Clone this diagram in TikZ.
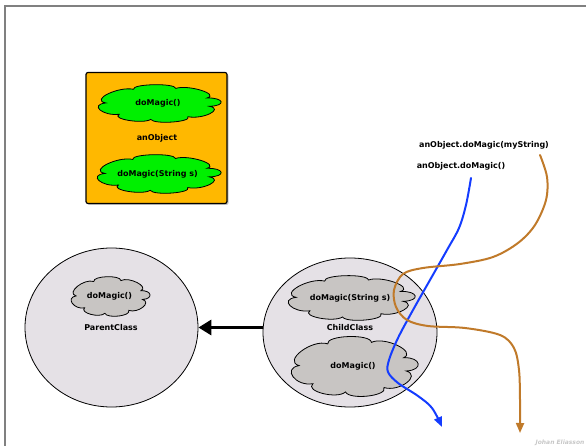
\documentclass[tikz,border=0pt]{standalone}
\usepackage{fontspec}
\setmainfont{DejaVu Sans}
\usetikzlibrary{shapes.geometric,arrows.meta,shadows}
\definecolor{boxorange}{RGB}{255,184,0}
\definecolor{puffgreen}{RGB}{0,240,0}
\definecolor{puffgray}{RGB}{200,197,195}
\definecolor{classfill}{RGB}{229,225,230}
\definecolor{callblue}{RGB}{20,60,255}
\definecolor{callbrown}{RGB}{192,122,42}
\definecolor{framegray}{RGB}{128,128,128}
\tikzset{
  lbl/.style={font=\fontsize{8}{9}\selectfont\bfseries, text=black, inner sep=0pt},
  puffline/.style={draw=black, line width=0.8pt},
  classcircle/.style={ellipse, draw=black, line width=0.8pt, fill=classfill, inner sep=0pt},
  callpath/.style={line width=2pt, line cap=round, line join=round},
}
% cloud outline with a label node: name, centre, half width, half height, fill, text
\newcommand\puffcloud[6]{%
  \begin{scope}[shift={#2}, x=#3pt, y=#4pt]
    \path[puffline, fill=#5] (20:0.87)
      \foreach \a/\b in {20/70, 70/118, 118/178, 178/222, 222/262, 262/305, 305/350, 350/380}
        { .. controls ({\a+0.12*(\b-\a)}:1.15) and ({\b-0.12*(\b-\a)}:1.15) .. (\b:0.87) }
      -- cycle;
  \end{scope}
  \node[lbl] (#1) at #2 {#6};
}
\begin{document}
\begin{tikzpicture}[x=1pt,y=-1pt]
\useasboundingbox (0,0) rectangle (586,446);
% page frame
\draw[framegray, line width=2pt] (5,446) -- (5,6.5) -- (586,6.5);

% the object box
\node[draw=black, line width=1.2pt, rounded corners=2pt, fill=boxorange,
      minimum width=141pt, minimum height=131pt, inner sep=0pt,
      drop shadow={shadow xshift=1.5pt, shadow yshift=-1.5pt, opacity=0.45}]
      (obj) at (156.5,138) {};
\puffcloud{om1}{(158,103.5)}{60}{18.5}{puffgreen}{doMagic()}
\node[lbl] (objname) at (157,138) {anObject};
\puffcloud{om2}{(157.5,174)}{60.5}{19}{puffgreen}{doMagic(String s)}

% parent class
\node[classcircle, minimum width=173pt, minimum height=159pt] (parent) at (111.5,327.5) {};
\puffcloud{pm}{(109.5,296.5)}{38.5}{19.5}{puffgray}{doMagic()}
\node[lbl] (pname) at (111,328) {ParentClass};

% child class
\node[classcircle, minimum width=174pt, minimum height=149pt] (child) at (350,332.5) {};
\puffcloud{cm1}{(350,298)}{62}{22}{puffgray}{doMagic(String s)}
\node[lbl] (cname) at (350,328) {ChildClass};
\puffcloud{cm2}{(353,366.5)}{62}{29.5}{puffgray}{doMagic()}

% inheritance arrow
\draw[line width=3.5pt, -{Triangle[length=13pt,width=15pt]}]
  (parent.east -| child.west) -- (parent.east);

% method calls
\node[lbl] (call1) at (484,145) {anObject.doMagic(myString)};
\node[lbl] (call2) at (461,166) {anObject.doMagic()};

\coordinate (b0) at (471,178);
\coordinate (b9) at (442,427);
\draw[callpath, callblue, -{Triangle[length=10pt,width=8pt]}]
  plot[smooth, tension=0.55] coordinates {(b0) (466,205) (459,228) (447,250) (430,280)
    (413,310) (398,338) (389,360) (388,372) (398,383) (418,396) (432,408) (b9)};

\coordinate (r0) at (540,155);
\coordinate (r9) at (520,433);
\draw[callpath, callbrown, -{Triangle[length=10pt,width=8pt]}]
  plot[smooth, tension=0.55] coordinates {(r0) (547,177) (546,200) (535,225) (518,243)
    (493,257) (460,264) (423,268) (403,274) (394,290) (396,307) (407,320) (428,326)
    (465,328) (500,335) (514,348) (519,370) (520,400) (r9)};

% author
\node[inner sep=0pt, text=black!22, font=\fontsize{6}{7}\selectfont\bfseries\itshape]
  (author) at (560,443) {Johan Eliasson};
\end{tikzpicture}
\end{document}
